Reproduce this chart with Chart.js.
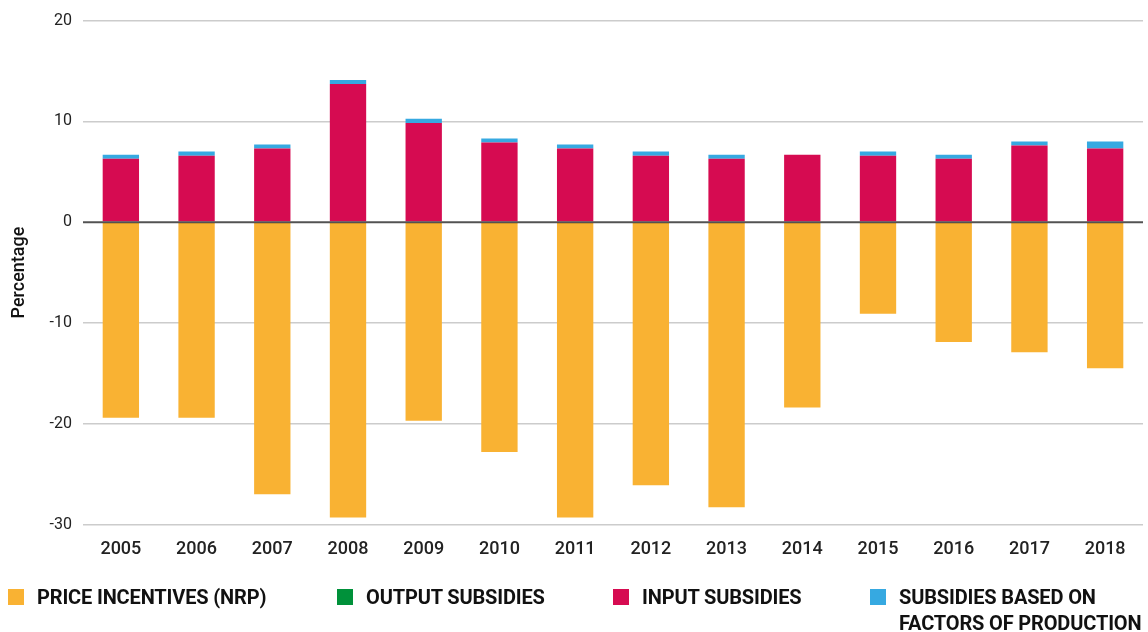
<!DOCTYPE html>
<html>
<head>
<meta charset="utf-8">
<script src="https://cdn.jsdelivr.net/npm/chart.js@4.4.1/dist/chart.umd.min.js"></script>
<style>
  html, body { margin: 0; padding: 0; background: #fff; }
  #wrap { position: relative; width: 1148px; height: 632px; overflow: hidden; }
  #chartBox { position: absolute; left: 0; top: 0; width: 1148px; height: 575px; }
  #legend { position: absolute; left: 0; top: 0; width: 1148px; height: 632px; pointer-events: none; }
  .item { position: absolute; top: 584px; display: flex; align-items: flex-start; }
  .box { width: 16px; height: 16px; margin-top: 5px; flex: none; }
  .lbl { margin-left: 13px; font-family: Roboto, sans-serif; font-weight: 700; font-size: 20px;
         line-height: 26px; letter-spacing: -0.15px; color: #111; white-space: nowrap; }
</style>
</head>
<body>
<div id="wrap">
  <div id="chartBox"><canvas id="c"></canvas></div>
  <div id="legend"></div>
</div>
<script>
const years = ['2005','2006','2007','2008','2009','2010','2011','2012','2013','2014','2015','2016','2017','2018'];
const priceIncentives = [-19.4, -19.4, -27.0, -29.3, -19.7, -22.8, -29.3, -26.1, -28.3, -18.4, -9.1, -11.9, -12.9, -14.5];
const outputSubsidies = [0, 0, 0, 0, 0, 0, 0, 0, 0, 0, 0, 0, 0, 0];
const inputSubsidies = [6.3, 6.6, 7.3, 13.7, 9.85, 7.9, 7.3, 6.6, 6.3, 6.7, 6.6, 6.3, 7.6, 7.3];
const factorSubsidies = [0.4, 0.4, 0.4, 0.4, 0.4, 0.4, 0.4, 0.4, 0.4, 0, 0.4, 0.4, 0.4, 0.7];
const seriesNames = ['PRICE INCENTIVES (NRP)', 'OUTPUT SUBSIDIES', 'INPUT SUBSIDIES', ['SUBSIDIES BASED ON', 'FACTORS OF PRODUCTION']];
const seriesColors = ['#F9B233', '#00913A', '#D60B51', '#36A9E1'];
const yTicks = [-30, -20, -10, 0, 10, 20];

const seriesData = [priceIncentives, outputSubsidies, inputSubsidies, factorSubsidies];

const zeroLinePlugin = {
  id: 'zeroLine',
  afterDatasetsDraw(chart) {
    const y = chart.scales.y.getPixelForValue(0);
    const ctx = chart.ctx;
    ctx.save();
    ctx.strokeStyle = 'rgba(0,0,0,0.68)';
    ctx.lineWidth = 2;
    ctx.beginPath();
    ctx.moveTo(chart.chartArea.left, y);
    ctx.lineTo(chart.chartArea.right, y);
    ctx.stroke();
    ctx.restore();
  }
};

const chart = new Chart(document.getElementById('c'), {
  type: 'bar',
  data: {
    labels: years,
    datasets: seriesData.map((d, i) => ({
      label: Array.isArray(seriesNames[i]) ? seriesNames[i].join(' ') : seriesNames[i],
      data: d,
      backgroundColor: seriesColors[i],
      borderWidth: 0,
      categoryPercentage: 0.96,
      barPercentage: 0.5
    }))
  },
  options: {
    responsive: true,
    maintainAspectRatio: false,
    animation: false,
    layout: { padding: { top: 20, right: 5, left: 0, bottom: 0 } },
    plugins: { legend: { display: false }, tooltip: { enabled: false } },
    scales: {
      x: {
        stacked: true,
        grid: { display: false, drawTicks: false },
        border: { display: false },
        ticks: { color: '#222', padding: 14, font: { family: 'Roboto', size: 18, weight: '500' } },
        afterFit(axis) { axis.height = 50.5; }
      },
      y: {
        stacked: true,
        min: -30,
        max: 20,
        afterBuildTicks(axis) { axis.ticks = yTicks.map(v => ({ value: v })); },
        grid: {
          color: (ctx) => ctx.tick && ctx.tick.value === 0 ? 'rgba(0,0,0,0)' : '#CCCCCC',
          lineWidth: 1.6,
          drawTicks: false
        },
        border: { display: false },
        ticks: { color: '#222', padding: 11, font: { family: 'Roboto', size: 16 } },
        title: { display: true, text: 'Percentage', color: '#111', padding: { top: 9, bottom: 0 },
                 font: { family: 'Roboto', size: 18, weight: '500' } },
        afterFit(axis) { axis.width = 83; }
      }
    }
  },
  plugins: [zeroLinePlugin]
});

// HTML legend built from the chart's datasets
const legendLefts = [8, 337, 613, 870];
const legendEl = document.getElementById('legend');
chart.data.datasets.forEach((ds, i) => {
  const item = document.createElement('div');
  item.className = 'item';
  item.style.left = legendLefts[i] + 'px';
  const box = document.createElement('div');
  box.className = 'box';
  box.style.background = ds.backgroundColor;
  const lbl = document.createElement('div');
  lbl.className = 'lbl';
  const name = seriesNames[i];
  (Array.isArray(name) ? name : [name]).forEach(line => {
    const l = document.createElement('div');
    l.textContent = line;
    lbl.appendChild(l);
  });
  item.appendChild(box);
  item.appendChild(lbl);
  legendEl.appendChild(item);
});
</script>
</body>
</html>
